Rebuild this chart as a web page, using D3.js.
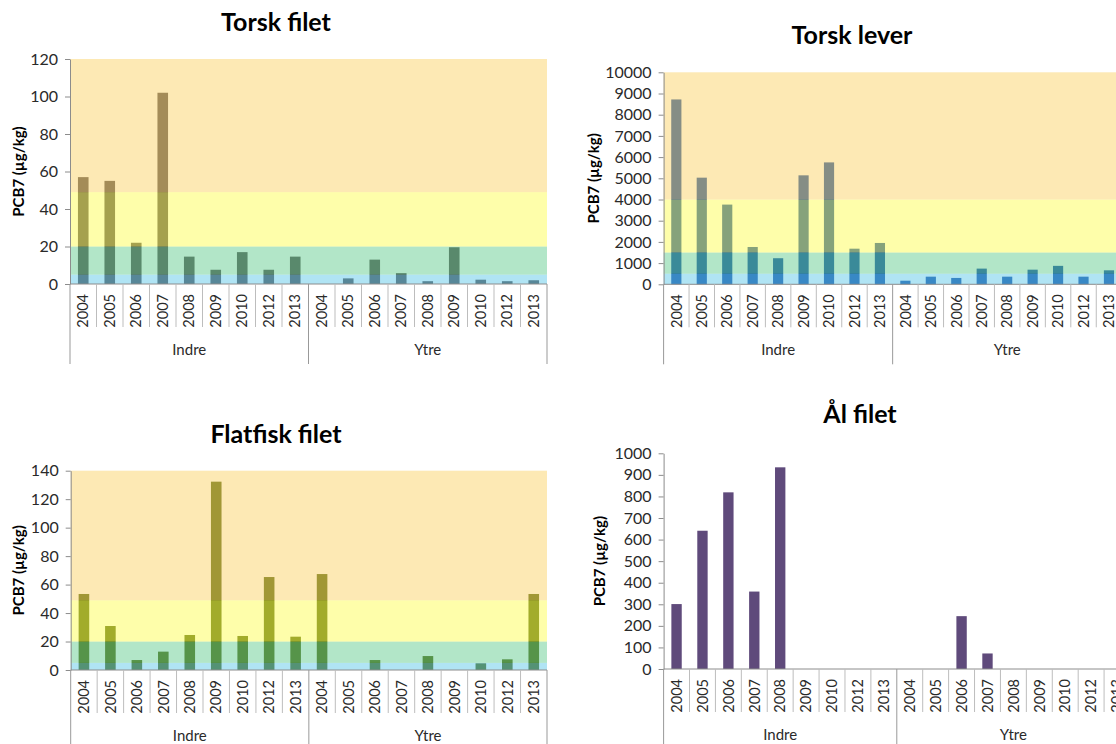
<!DOCTYPE html>
<html>
<head>
<meta charset="utf-8">
<script src="https://cdn.jsdelivr.net/npm/d3@7"></script>
<style>
  body { margin: 0; background: #fff; }
  svg { display: block; font-family: Lato, "Open Sans", sans-serif; }
</style>
</head>
<body>
<svg id="chart" width="1116" height="744"></svg>
<script>
// Sampling years and station groups
const years = ["2004", "2005", "2006", "2007", "2008", "2009", "2010", "2012", "2013"];
const groups = ["Indre", "Ytre"];

// PCB7 (µg/kg) per year, inner and outer stations (null = no sample)
const torskFiletIndre = [57, 55, 22, 102, 14.6, 7.6, 17, 7.6, 14.6];
const torskFiletYtre  = [null, 3, 13, 5.8, 1.5, 19.6, 2.3, 1.5, 2];
const torskLeverIndre = [8720, 5030, 3760, 1760, 1230, 5140, 5750, 1680, 1950];
const torskLeverYtre  = [170, 360, 300, 740, 360, 690, 870, 360, 660];
const flatfiskIndre   = [53.4, 30.9, 7, 12.9, 24.6, 132.3, 23.9, 65.3, 23.4];
const flatfiskYtre    = [67.4, null, 7, null, 9.8, null, 4.7, 7.5, 53.4];
const alFiletIndre    = [301, 641, 819, 359, 935, null, null, null, null];
const alFiletYtre     = [null, null, 245, 72, null, null, null, null, null];

// Class limits (upper bounds of classes I–III)
const filetLimits = [5, 20, 49];
const leverLimits = [500, 1500, 4000];

// Tick settings per panel
const torskFiletTicks = [0, 120, 20];
const torskLeverTicks = [0, 10000, 1000];
const flatfiskTicks   = [0, 140, 20];
const alFiletTicks    = [0, 1000, 100];

// Class band colours, laid over the bars half-transparent
const classColors = ["#61c9e9", "#65cd91", "#fdfd55", "#fbd369"];

const svg = d3.select("#chart");

function panel(cfg) {
  const g = svg.append("g");
  const keys = [];
  const rows = [];
  groups.forEach((grp, gi) => {
    years.forEach((yr, i) => {
      const k = grp + "|" + yr;
      keys.push(k);
      rows.push({ key: k, grp, yr, v: cfg.series[gi][i] });
    });
  });

  const x = d3.scaleBand().domain(keys).range([cfg.x0, cfg.x1])
    .paddingInner(0.6).paddingOuter(0.3);
  const [tmin, tmax, tstep] = cfg.ticks;
  const y = d3.scaleLinear().domain([tmin, tmax]).range([cfg.yZero, cfg.yTop]);
  const step = x.step();
  const left = k => x(k) - (step - x.bandwidth()) / 2;

  // bars
  g.append("g").selectAll("rect")
    .data(rows.filter(d => d.v != null))
    .join("rect")
    .attr("x", d => x(d.key))
    .attr("width", x.bandwidth())
    .attr("y", d => y(d.v))
    .attr("height", d => y(0) - y(d.v))
    .attr("fill", cfg.color);

  // class bands
  if (cfg.limits) {
    const edges = [0, ...cfg.limits, tmax];
    const bands = d3.range(edges.length - 1).map(i => ({ lo: edges[i], hi: edges[i + 1], c: classColors[i] }));
    g.append("g").selectAll("rect")
      .data(bands)
      .join("rect")
      .attr("x", cfg.x0)
      .attr("width", cfg.x1 - cfg.x0)
      .attr("y", d => y(d.hi))
      .attr("height", d => y(d.lo) - y(d.hi))
      .attr("fill", d => d.c)
      .attr("fill-opacity", 0.5);
  }

  // y axis
  const ya = g.append("g")
    .attr("transform", `translate(${cfg.x0},0)`)
    .call(d3.axisLeft(y).tickValues(d3.range(tmin, tmax + tstep / 2, tstep))
      .tickSize(5).tickSizeOuter(0).tickPadding(7).tickFormat(d3.format("d")));
  ya.select(".domain").attr("stroke", "#8c8c8c");
  ya.selectAll(".tick line").attr("stroke", "#8c8c8c");
  ya.selectAll(".tick text").attr("font-size", 16).attr("fill", "#2a2a2a")
    .attr("font-family", "Lato, sans-serif");

  // x axis baseline
  g.append("line")
    .attr("x1", cfg.x0).attr("x2", cfg.x1)
    .attr("y1", y(0)).attr("y2", y(0))
    .attr("stroke", "#8c8c8c");

  // category separators
  const bounds = keys.map(left).concat([cfg.x1]);
  g.append("g").selectAll("line")
    .data(bounds)
    .join("line")
    .attr("x1", d => d).attr("x2", d => d)
    .attr("y1", y(0))
    .attr("y2", (d, i) => (i % years.length === 0) ? y(0) + 80 : y(0) + 43)
    .attr("stroke", (d, i) => (i % years.length === 0) ? "#999" : "#bdbdbd");

  // year labels
  g.append("g").selectAll("text")
    .data(rows)
    .join("text")
    .attr("transform", d => `translate(${x(d.key) + x.bandwidth() / 2},${y(0) + 10}) rotate(-90)`)
    .attr("text-anchor", "end")
    .attr("dy", "0.36em")
    .attr("font-size", 14.5)
    .attr("fill", "#2a2a2a")
    .text(d => d.yr);

  // group labels
  g.append("g").selectAll("text")
    .data(groups)
    .join("text")
    .attr("x", gr => {
      const a = left(gr + "|" + years[0]);
      return a + step * years.length / 2;
    })
    .attr("y", y(0) + 71)
    .attr("text-anchor", "middle")
    .attr("font-size", 15)
    .attr("fill", "#2a2a2a")
    .text(gr => gr);

  // axis title
  g.append("text")
    .attr("transform", `translate(${cfg.yTitleX},${(cfg.yZero + cfg.yTop) / 2}) rotate(-90)`)
    .attr("text-anchor", "middle")
    .attr("dy", "0.36em")
    .attr("font-size", 15)
    .attr("font-weight", "bold")
    .attr("fill", "#000")
    .text("PCB7 (µg/kg)");

  // chart title
  g.append("text")
    .attr("x", cfg.titleX).attr("y", cfg.titleY)
    .attr("text-anchor", "middle")
    .attr("font-size", 25)
    .attr("font-weight", "bold")
    .attr("fill", "#000")
    .text(cfg.title);
}

panel({
  title: "Torsk filet", titleX: 276, titleY: 31,
  series: [torskFiletIndre, torskFiletYtre], ticks: torskFiletTicks, limits: filetLimits,
  color: "#4d4547", x0: 70, x1: 547, yZero: 284, yTop: 59, yTitleX: 19
});
panel({
  title: "Torsk lever", titleX: 852, titleY: 44,
  series: [torskLeverIndre, torskLeverYtre], ticks: torskLeverTicks, limits: leverLimits,
  color: "#0f46a0", x0: 663.6, x1: 1121.7, yZero: 284.3, yTop: 72.3, yTitleX: 594
});
panel({
  title: "Flatfisk filet", titleX: 276, titleY: 443,
  series: [flatfiskIndre, flatfiskYtre], ticks: flatfiskTicks, limits: filetLimits,
  color: "#465a00", x0: 70.7, x1: 547, yZero: 670, yTop: 470.7, yTitleX: 19
});
panel({
  title: "Ål filet", titleX: 860, titleY: 423,
  series: [alFiletIndre, alFiletYtre], ticks: alFiletTicks, limits: null,
  color: "#5f4a7b", x0: 663.6, x1: 1130, yZero: 669, yTop: 453.3, yTitleX: 600
});
</script>
</body>
</html>
